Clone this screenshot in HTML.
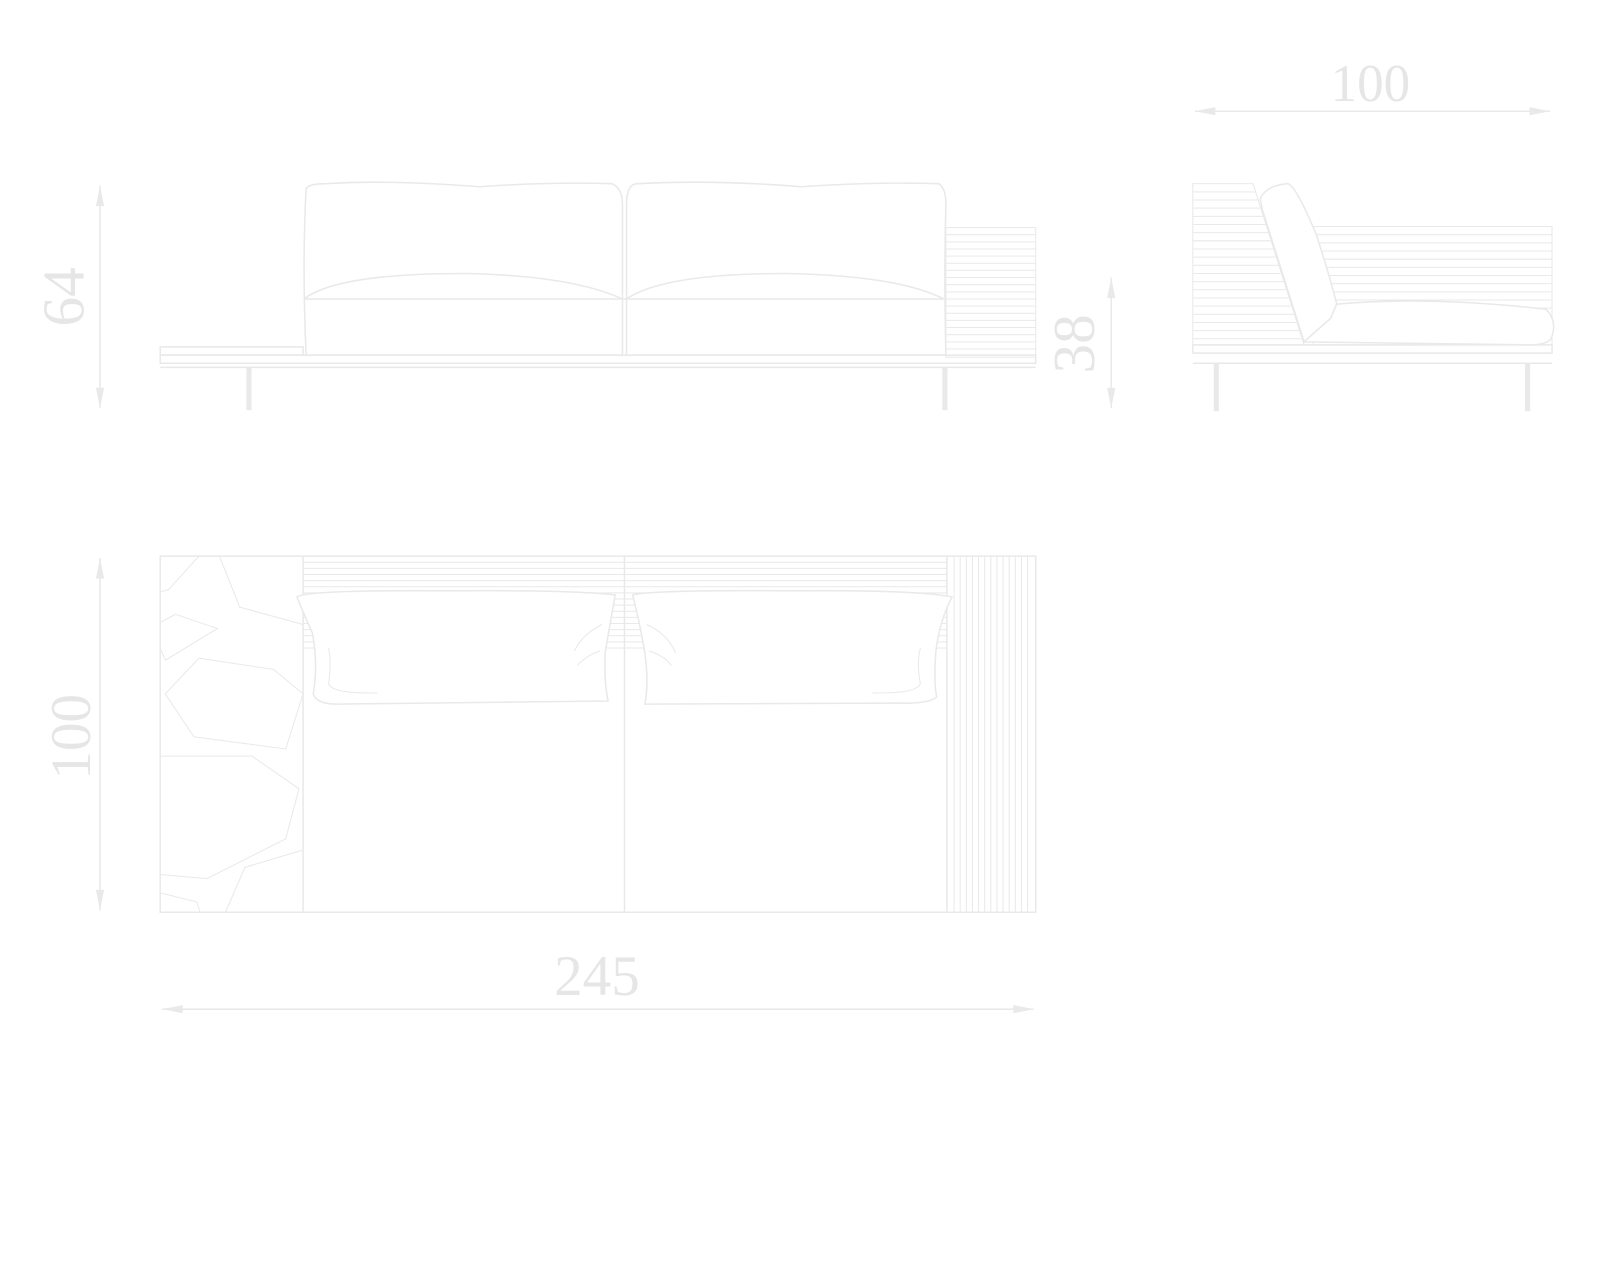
<!DOCTYPE html>
<html><head><meta charset="utf-8"><style>
html,body{margin:0;padding:0;background:#fff;width:1600px;height:1280px;overflow:hidden}
svg{display:block}
text{font-family:"Liberation Serif",serif;fill:#e6e6e6}
</style></head><body>
<svg width="1600" height="1280" viewBox="0 0 1568 1254.4" xmlns="http://www.w3.org/2000/svg">
<defs>
<marker id="a" viewBox="0 0 20 8" refX="20" refY="4" markerWidth="26" markerHeight="8" markerUnits="userSpaceOnUse" orient="auto-start-reverse"><path d="M0,0 L20,4 L0,8 Z" fill="#e9e9e9"/></marker>
</defs>
<g fill="none" stroke="#e9e9e9" stroke-width="1.5">
<line x1="98" y1="182" x2="98" y2="400" marker-start="url(#a)" marker-end="url(#a)"/>
<line x1="1089" y1="272" x2="1089" y2="400" marker-start="url(#a)" marker-end="url(#a)"/>
<rect x="157" y="348" width="858" height="8"/>
<line x1="157" y1="360" x2="1015" y2="360"/>
<rect x="157" y="340" width="140" height="8"/>
<line x1="244" y1="360" x2="244" y2="402" stroke-width="5"/>
<line x1="926" y1="360" x2="926" y2="402" stroke-width="5"/>
<path d="M300,348 Q296,260 300,185 Q302,180 320,180 Q380,176 470,183 Q540,178 600,180 Q610,185 610,200 L610,348 Z"/>
<path d="M614,348 L614,200 Q614,180 625,180 Q700,176 785,183 Q860,178 920,180 Q927,185 927,200 Q925,270 927,348 Z"/>
<path d="M298,293 Q330,268 455,268 Q560,270 610,293"/>
<path d="M614,293 Q650,268 770,268 Q880,270 925,293"/>
<line x1="298" y1="293" x2="925" y2="293"/>
<g stroke-width="1">
<rect x="927" y="223" width="88" height="127"/>
<path d="M927,230H1015M927,237H1015M927,244H1015M927,251H1015M927,258H1015M927,265H1015M927,272H1015M927,279H1015M927,286H1015M927,293H1015M927,300H1015M927,307H1015M927,314H1015M927,321H1015M927,328H1015M927,335H1015M927,342H1015"/>
</g>
<line x1="1171" y1="109" x2="1519" y2="109" marker-start="url(#a)" marker-end="url(#a)"/>
<rect x="1169" y="338" width="352" height="8"/>
<line x1="1169" y1="356" x2="1521" y2="356"/>
<line x1="1192" y1="356" x2="1192" y2="403" stroke-width="5"/>
<line x1="1497" y1="356" x2="1497" y2="403" stroke-width="5"/>
<g stroke-width="1">
<path d="M1169,180 L1228,180 L1278,338 L1169,338 Z"/>
<path d="M1169,188H1230M1169,196H1233M1169,204H1235M1169,212H1238M1169,220H1240M1169,228H1243M1169,236H1245M1169,244H1248M1169,252H1250M1169,260H1253M1169,268H1255M1169,276H1258M1169,284H1260M1169,292H1263M1169,300H1265M1169,308H1268M1169,316H1270M1169,324H1273M1169,332H1275"/>
<rect x="1287" y="222" width="234" height="116"/>
<path d="M1287,230H1521M1287,238H1521M1287,246H1521M1287,254H1521M1287,262H1521M1287,270H1521M1287,278H1521M1287,286H1521M1287,294H1521M1287,302H1521M1287,310H1521"/>
</g>
<path d="M1235,195 Q1240,182 1262,180 Q1270,182 1290,230 Q1303,270 1310,298 L1304,312 L1278,335 L1237,205 Z" fill="#fff"/>
<path d="M1310,298 Q1400,290 1515,303 Q1527,315 1520,332 Q1515,338 1500,338 L1278,335 L1304,312 Z" fill="#fff"/>
<line x1="98" y1="547" x2="98" y2="892" marker-start="url(#a)" marker-end="url(#a)"/>
<line x1="159" y1="989" x2="1013" y2="989" marker-start="url(#a)" marker-end="url(#a)"/>
<rect x="157" y="545" width="858" height="349"/>
<line x1="297" y1="545" x2="297" y2="894"/>
<line x1="612" y1="545" x2="612" y2="894"/>
<line x1="928" y1="545" x2="928" y2="894"/>
<g stroke-width="1">
<path d="M297,551H928M297,557H928M297,563H928M297,569H928M297,575H928M297,581H928M297,587H928M297,593H928M297,599H928M297,605H928M297,611H928M297,617H928M297,623H928M297,629H928M297,635H928"/>
<path d="M935,545V894M941,545V894M947,545V894M953,545V894M959,545V894M965,545V894M971,545V894M977,545V894M983,545V894M989,545V894M995,545V894M1001,545V894M1007,545V894"/>
<path d="M157,580 L165,578 L195,545 M215,545 L235,595 L297,612 M157,610 L172,602 L213,616 L162,647 L157,635 M162,680 L195,645 L268,656 L297,680 L280,734 L190,722 Z M157,741 L247,741 L293,773 L280,822 L203,861 L157,857 M157,875 L193,884 L196,894 M221,894 L240,850 L297,833"/>
</g>
<path d="M291,585 Q300,578 440,579 Q560,578 603,583 Q598,610 593,640 Q592,670 596,687 L330,690 Q310,690 307,680 Q312,650 306,620 Q297,600 291,585 Z" fill="#fff"/>
<path d="M620,583 Q640,578 780,579 Q900,578 933,585 Q920,610 917,640 Q915,670 918,683 Q910,690 880,689 L632,690 Q636,670 632,640 Q627,610 620,583 Z" fill="#fff"/>
<g stroke-width="1">
<path d="M563,638 Q570,622 590,612 M566,652 Q575,642 588,638 M634,612 Q655,622 662,640 M636,638 Q650,642 658,652"/>
<path d="M322,635 Q325,650 322,670 Q325,680 370,679 M902,635 Q898,650 902,670 Q898,680 855,679"/>
</g>
</g>
<text x="0" y="0" font-size="58" text-anchor="middle" transform="translate(82,291) rotate(-90)">64</text>
<text x="0" y="0" font-size="58" text-anchor="middle" transform="translate(1072,337) rotate(-90)">38</text>
<text x="1343" y="99" font-size="52" text-anchor="middle">100</text>
<text x="0" y="0" font-size="56" text-anchor="middle" transform="translate(88,722) rotate(-90)">100</text>
<text x="585" y="975" font-size="56" text-anchor="middle">245</text>
</svg>
</body></html>
